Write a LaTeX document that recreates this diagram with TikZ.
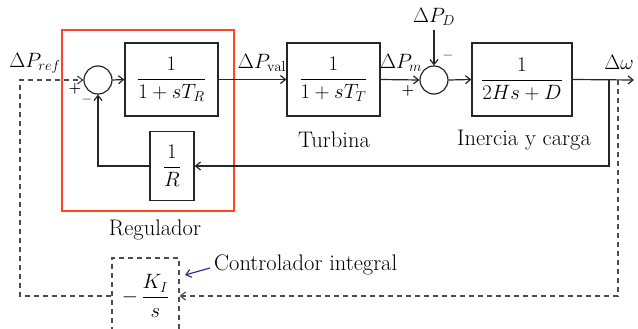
\documentclass[tikz,border=0pt]{standalone}
\usepackage{amsmath}
\usepackage{fontspec}
\usetikzlibrary{arrows.meta}
\begin{document}
\begin{tikzpicture}[x=1pt,y=-1pt,
  font=\fontsize{20.74}{25}\selectfont,
  blk/.style={draw=black!85,line width=1.2pt,inner sep=0pt},
  sumc/.style={draw=black!85,line width=1.2pt,circle,minimum size=28pt,inner sep=0pt},
  sig/.style={draw=black!85,line width=1.2pt,-{Straight Barb[length=5pt,width=8pt]}},
  dsig/.style={draw=black!70,line width=1.2pt,dash pattern=on 5pt off 4pt,-{Straight Barb[length=5pt,width=8pt]}},
  lbl/.style={inner sep=0pt},
  txt/.style={inner sep=0pt,font=\fontsize{22.5}{26}\selectfont},
  sgn/.style={inner sep=0pt,font=\fontsize{14.4}{14}\selectfont\bfseries}]
\useasboundingbox (0,0) rectangle (638,329);
% regulator frame
\draw[draw={rgb,255:red,255;green,69;blue,34},line width=1.1pt] (62,30) rectangle (234,211);
% blocks
\node[blk,minimum width=93pt,minimum height=73pt] (gr) at (171.5,79.5) {$\dfrac{1}{1+sT_R}$};
\node[blk,minimum width=93pt,minimum height=73pt] (gt) at (333.5,79.5) {$\dfrac{1}{1+sT_T}$};
\node[blk,minimum width=100pt,minimum height=73pt] (gi) at (522,79.5) {$\dfrac{1}{2Hs+D}$};
\node[blk,minimum width=44pt,minimum height=69pt] (gR) at (172,166) {$\dfrac{1}{R}$};
\node[draw=black!70,line width=1.2pt,dash pattern=on 5pt off 4pt,minimum width=67pt,minimum height=76pt,inner sep=0pt] (gk) at (145.5,296) {$-\,\dfrac{K_I}{s}$};
% summing points
\node[sumc] (s1) at (98,80) {};
\node[sumc] (s2) at (434,80) {};
% coordinates
\coordinate (pref) at (20,80);
\coordinate (pd) at (434,30);
\coordinate (out) at (634,80);
\coordinate (b1) at (609,80);
\coordinate (b2) at (618,80);
\coordinate (fb1) at (609,166);
\coordinate (fb2) at (98,166);
\coordinate (kb1) at (618,296);
\coordinate (kb2) at (20,296);
% signals
\draw[sig] (s1.east) -- (gr.west);
\draw[sig] (gr.east) -- (gt.west);
\draw[sig] (gt.east) -- (s2.west);
\draw[sig] (s2.east) -- (gi.west);
\draw[sig] (gi.east) -- (out);
\draw[sig] (pd) -- (s2.north);
\draw[sig] (b1) -- (fb1) -- (gR.east);
\draw[sig] (gR.west) -- (fb2) -- (s1.south);
\draw[dsig] (b2) -- (kb1) -- (gk.east);
\draw[dsig] (gk.west) -- (kb2) -- (pref) -- (s1.west);
% labels
\node[lbl] (lref) at (35,63) {$\Delta P_{ref}$};
\node[lbl] (lval) at (262,63) {$\Delta P_{\mathrm{val}}$};
\node[lbl] (lm) at (401,63) {$\Delta P_m$};
\node[lbl] (ld) at (434,17) {$\Delta P_D$};
\node[lbl] (lw) at (619,62) {$\Delta\omega$};
\node[sgn] (p1) at (75,89) {+};
\node[sgn] (m1) at (87,101) {--};
\node[sgn] (p2) at (408,91) {+};
\node[sgn] (m2) at (448,57) {--};
\node[txt] (tt) at (334,140) {Turbina};
\node[txt] (ti) at (524,140) {Inercia y carga};
\node[txt] (tr) at (155,230) {Regulador};
\node[txt,anchor=west] (tc) at (214,265) {Controlador integral};
\draw[draw={rgb,255:red,48;green,48;blue,160},line width=1.2pt,-{Straight Barb[length=5pt,width=8pt]}] (tc.west) ++(-4,3) -- (185,275);
\end{tikzpicture}
\end{document}
